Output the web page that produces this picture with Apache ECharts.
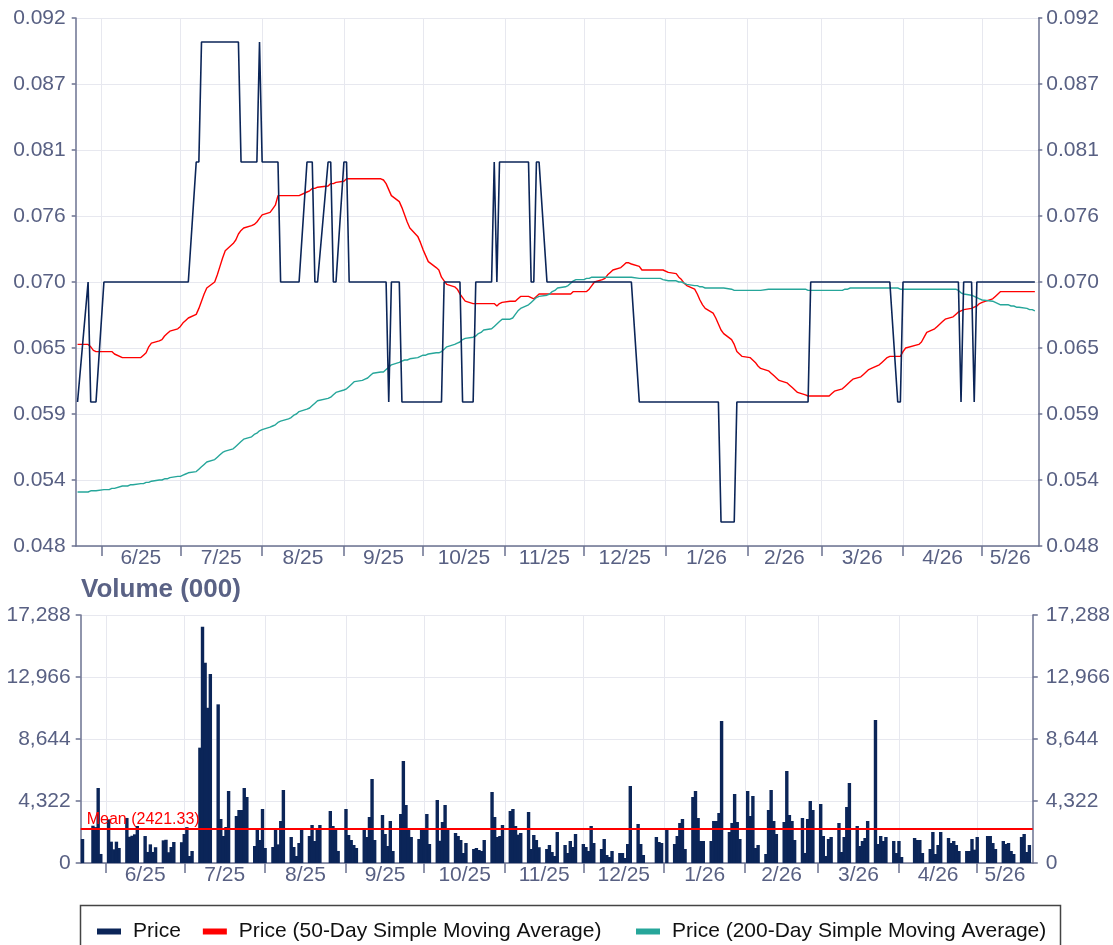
<!DOCTYPE html>
<html>
<head>
<meta charset="utf-8">
<script src="https://cdn.jsdelivr.net/npm/echarts@6/dist/echarts.min.js"></script>
<style>
  html, body { margin: 0; padding: 0; background: #ffffff; }
  #chart { width: 1113px; height: 945px; }
</style>
</head>
<body>
<div id="chart"></div>
<script>
// ---------------- DATA ----------------
// Trading calendar (London): weekdays between first and last session, minus bank holidays
const firstSession = '2025-05-23';
const lastSession = '2026-05-21';
const holidays = ['2025-05-26', '2025-08-25', '2025-12-25', '2025-12-26',
                  '2026-01-01', '2026-04-03', '2026-04-06', '2026-05-04'];

// Month boundaries and their labels (x axis)
const monthStarts = ['2025-06-01', '2025-07-01', '2025-08-01', '2025-09-01', '2025-10-01', '2025-11-01',
                     '2025-12-01', '2026-01-01', '2026-02-01', '2026-03-01', '2026-04-01', '2026-05-01'];
const monthLabels = ['6/25', '7/25', '8/25', '9/25', '10/25', '11/25', '12/25', '1/26', '2/26', '3/26', '4/26', '5/26'];

// Price axis ticks
const priceTickValues = [0.048, 0.0535, 0.059, 0.0645, 0.070, 0.0755, 0.081, 0.0865, 0.092];
const priceTickLabels = ['0.048', '0.054', '0.059', '0.065', '0.070', '0.076', '0.081', '0.087', '0.092'];
// Volume axis ticks
const volumeMax = 17288;
const volumeInterval = 4322;
const meanVolume = 2421.33;

const seriesNames = ['Price', 'Price (50-Day Simple Moving Average)', 'Price (200-Day Simple Moving Average)'];

// Closing price, one value per session (rows = weeks)
const price = [
  0.060,
  0.070, 0.060, 0.060, 0.060,
  0.070, 0.070, 0.070, 0.070, 0.070,
  0.070, 0.070, 0.070, 0.070, 0.070,
  0.070, 0.070, 0.070, 0.070, 0.070,
  0.070, 0.070, 0.070, 0.070, 0.070,
  0.070, 0.070, 0.070, 0.070, 0.070,
  0.080, 0.080, 0.090, 0.090, 0.090,
  0.090, 0.090, 0.090, 0.090, 0.090,
  0.090, 0.090, 0.090, 0.080, 0.080,
  0.080, 0.080, 0.080, 0.090, 0.080,
  0.080, 0.080, 0.080, 0.080, 0.070,
  0.070, 0.070, 0.070, 0.070, 0.070,
  0.080, 0.080, 0.080, 0.070, 0.070,
  0.080, 0.080, 0.070, 0.070,
  0.080, 0.080, 0.070, 0.070, 0.070,
  0.070, 0.070, 0.070, 0.070, 0.070,
  0.070, 0.070, 0.070, 0.060, 0.070,
  0.070, 0.060, 0.060, 0.060, 0.060,
  0.060, 0.060, 0.060, 0.060, 0.060,
  0.060, 0.060, 0.060, 0.070, 0.070,
  0.070, 0.070, 0.070, 0.060, 0.060,
  0.060, 0.070, 0.070, 0.070, 0.070,
  0.070, 0.080, 0.070, 0.080, 0.080,
  0.080, 0.080, 0.080, 0.080, 0.080,
  0.080, 0.070, 0.070, 0.080, 0.080,
  0.070, 0.070, 0.070, 0.070, 0.070,
  0.070, 0.070, 0.070, 0.070, 0.070,
  0.070, 0.070, 0.070, 0.070, 0.070,
  0.070, 0.070, 0.070, 0.070, 0.070,
  0.070, 0.070, 0.070, 0.070, 0.070,
  0.060, 0.060, 0.060,
  0.060, 0.060, 0.060, 0.060,
  0.060, 0.060, 0.060, 0.060, 0.060,
  0.060, 0.060, 0.060, 0.060, 0.060,
  0.060, 0.060, 0.060, 0.050, 0.050,
  0.050, 0.050, 0.060, 0.060, 0.060,
  0.060, 0.060, 0.060, 0.060, 0.060,
  0.060, 0.060, 0.060, 0.060, 0.060,
  0.060, 0.060, 0.060, 0.060, 0.060,
  0.060, 0.060, 0.070, 0.070, 0.070,
  0.070, 0.070, 0.070, 0.070, 0.070,
  0.070, 0.070, 0.070, 0.070, 0.070,
  0.070, 0.070, 0.070, 0.070, 0.070,
  0.070, 0.070, 0.070, 0.070, 0.070,
  0.060, 0.060, 0.070, 0.070,
  0.070, 0.070, 0.070, 0.070,
  0.070, 0.070, 0.070, 0.070, 0.070,
  0.070, 0.070, 0.070, 0.060, 0.070,
  0.070, 0.060, 0.070, 0.070, 0.070,
  0.070, 0.070, 0.070, 0.070,
  0.070, 0.070, 0.070, 0.070, 0.070,
  0.070, 0.070, 0.070, 0.070
];

// 50-day simple moving average
const sma50 = [
  0.0648,
  0.0648, 0.0646, 0.0643, 0.0642,
  0.0642, 0.0642, 0.0642, 0.0642, 0.0640,
  0.0637, 0.0637, 0.0637, 0.0637, 0.0637,
  0.0637, 0.0639, 0.0641, 0.0646, 0.0649,
  0.0651, 0.0652, 0.0655, 0.0657, 0.0659,
  0.0661, 0.0663, 0.0666, 0.0668, 0.0670,
  0.0673, 0.0678, 0.0684, 0.0690, 0.0695,
  0.0700, 0.0706, 0.0713, 0.0720, 0.0726,
  0.0732, 0.0735, 0.0740, 0.0743, 0.0745,
  0.0747, 0.0748, 0.0750, 0.0753, 0.0756,
  0.0758, 0.0761, 0.0764, 0.0772, 0.0772,
  0.0772, 0.0772, 0.0772, 0.0772, 0.0772,
  0.0775, 0.0776, 0.0778, 0.0778, 0.0779,
  0.0780, 0.0782, 0.0782, 0.0783,
  0.0784, 0.0786, 0.0786, 0.0786, 0.0786,
  0.0786, 0.0786, 0.0786, 0.0786, 0.0786,
  0.0786, 0.0785, 0.0782, 0.0777, 0.0772,
  0.0767, 0.0762, 0.0756, 0.0750, 0.0745,
  0.0738, 0.0733, 0.0727, 0.0722, 0.0717,
  0.0712, 0.0710, 0.0704, 0.0701, 0.0698,
  0.0696, 0.0694, 0.0690, 0.0687, 0.0684,
  0.0682, 0.0682, 0.0682, 0.0682, 0.0682,
  0.0682, 0.0682, 0.0680, 0.0682, 0.0683,
  0.0684, 0.0684, 0.0684, 0.0686, 0.0688,
  0.0688, 0.0687, 0.0686, 0.0688, 0.0690,
  0.0690, 0.0690, 0.0690, 0.0690, 0.0690,
  0.0690, 0.0690, 0.0690, 0.0692, 0.0692,
  0.0692, 0.0692, 0.0694, 0.0697, 0.0700,
  0.0702, 0.0703, 0.0706, 0.0708, 0.0710,
  0.0712, 0.0714, 0.0716, 0.0716, 0.0715,
  0.0713, 0.0710, 0.0710,
  0.0710, 0.0710, 0.0710, 0.0708,
  0.0707, 0.0704, 0.0702, 0.0699, 0.0697,
  0.0694, 0.0690, 0.0685, 0.0681, 0.0678,
  0.0674, 0.0670, 0.0665, 0.0660, 0.0657,
  0.0652, 0.0648, 0.0642, 0.0640, 0.0638,
  0.0637, 0.0635, 0.0633, 0.0630, 0.0628,
  0.0626, 0.0624, 0.0622, 0.0620, 0.0618,
  0.0616, 0.0614, 0.0612, 0.0610, 0.0608,
  0.0606, 0.0605, 0.0605, 0.0605, 0.0605,
  0.0605, 0.0605, 0.0605, 0.0607, 0.0609,
  0.0611, 0.0613, 0.0615, 0.0617, 0.0619,
  0.0621, 0.0623, 0.0625, 0.0627, 0.0628,
  0.0631, 0.0633, 0.0635, 0.0637, 0.0638,
  0.0638, 0.0638, 0.0642, 0.0645,
  0.0648, 0.0650, 0.0654, 0.0658,
  0.0661, 0.0663, 0.0665, 0.0667, 0.0669,
  0.0671, 0.0673, 0.0675, 0.0676, 0.0677,
  0.0678, 0.0679, 0.0680, 0.0682, 0.0683,
  0.0686, 0.0688, 0.0690, 0.0692,
  0.0692, 0.0692, 0.0692, 0.0692, 0.0692,
  0.0692, 0.0692, 0.0692, 0.0692
];

// 200-day simple moving average
const sma200 = [
  0.0525,
  0.0525, 0.0526, 0.0526, 0.0526,
  0.0527, 0.0527, 0.0527, 0.0528, 0.0528,
  0.0530, 0.0530, 0.0530, 0.0531, 0.0531,
  0.0532, 0.0532, 0.0533, 0.0533, 0.0534,
  0.0535, 0.0535, 0.0536, 0.0536, 0.0537,
  0.0538, 0.0538, 0.0539, 0.0540, 0.0541,
  0.0542, 0.0544, 0.0546, 0.0548, 0.0550,
  0.0552, 0.0554, 0.0556, 0.0558, 0.0559,
  0.0561, 0.0563, 0.0565, 0.0567, 0.0569,
  0.0571, 0.0573, 0.0574, 0.0576, 0.0577,
  0.0579, 0.0580, 0.0581, 0.0583, 0.0584,
  0.0586, 0.0587, 0.0589, 0.0590, 0.0592,
  0.0594, 0.0595, 0.0597, 0.0599, 0.0601,
  0.0603, 0.0604, 0.0606, 0.0608,
  0.0610, 0.0611, 0.0613, 0.0615, 0.0617,
  0.0618, 0.0619, 0.0620, 0.0622, 0.0624,
  0.0625, 0.0625, 0.0627, 0.0629, 0.0631,
  0.0633, 0.0634, 0.0635, 0.0635, 0.0636,
  0.0637, 0.0638, 0.0639, 0.0639, 0.0640,
  0.0641, 0.0641, 0.0642, 0.0644, 0.0646,
  0.0648, 0.0649, 0.0650, 0.0652, 0.0653,
  0.0654, 0.0655, 0.0657, 0.0658, 0.0660,
  0.0661, 0.0663, 0.0665, 0.0667, 0.0669,
  0.0669, 0.0670, 0.0673, 0.0676, 0.0678,
  0.0681, 0.0683, 0.0685, 0.0687, 0.0688,
  0.0689, 0.0690, 0.0692, 0.0693, 0.0695,
  0.0696, 0.0697, 0.0699, 0.0701, 0.0702,
  0.0702, 0.0703, 0.0703, 0.0704, 0.0704,
  0.0704, 0.0704, 0.0704, 0.0704, 0.0704,
  0.0704, 0.0704, 0.0704, 0.0704, 0.0704,
  0.0703, 0.0703, 0.0703,
  0.0703, 0.0703, 0.0702, 0.0701,
  0.0701, 0.0700, 0.0700, 0.0699, 0.0698,
  0.0697, 0.0697, 0.0696, 0.0696, 0.0695,
  0.0695, 0.0695, 0.0695, 0.0695, 0.0695,
  0.0694, 0.0693, 0.0693, 0.0693, 0.0693,
  0.0693, 0.0693, 0.0693, 0.0693, 0.0693,
  0.0694, 0.0694, 0.0694, 0.0694, 0.0694,
  0.0694, 0.0694, 0.0694, 0.0694, 0.0694,
  0.0694, 0.0693, 0.0693, 0.0693, 0.0693,
  0.0693, 0.0693, 0.0693, 0.0693, 0.0693,
  0.0693, 0.0694, 0.0694, 0.0695, 0.0695,
  0.0695, 0.0695, 0.0695, 0.0695, 0.0695,
  0.0695, 0.0695, 0.0695, 0.0695, 0.0695,
  0.0695, 0.0694, 0.0694, 0.0694,
  0.0694, 0.0694, 0.0694, 0.0694,
  0.0694, 0.0694, 0.0694, 0.0694, 0.0694,
  0.0694, 0.0694, 0.0693, 0.0691, 0.0690,
  0.0689, 0.0688, 0.0687, 0.0686, 0.0685,
  0.0684, 0.0683, 0.0682, 0.0681,
  0.0681, 0.0680, 0.0680, 0.0679, 0.0679,
  0.0678, 0.0677, 0.0677, 0.0676
];

// Volume (000), one value per session
const volume = [
  1673,
  2600, 2500, 5230, 630,
  3044, 1487, 953, 1487, 1046,
  3140, 1830, 1900, 2000, 2580,
  1880, 770, 1300, 770, 1100,
  1580, 1620, 750, 1115, 1464,
  1450, 2022, 2500, 488, 837,
  8040, 16470, 13960, 10820, 13180,
  11060, 3068, 1882, 2510, 5020,
  3277, 3695, 3695, 5229, 4600,
  1185, 2300, 1604, 3765, 1046,
  1115, 2370, 1300, 2928, 5090,
  1813, 1115, 488, 1394, 2300,
  1882, 2650, 1534, 2300, 2650,
  3625, 2580, 2300, 840,
  3765, 1952, 1604, 1255, 1046,
  2394, 1813, 3207, 5856, 1604,
  3347, 2022, 1185, 2928, 837,
  3416, 7111, 4044, 2370, 1813,
  1673, 2370, 2300, 3416, 1325,
  4392, 1550, 2859, 4044, 2370,
  2092, 1882, 1604, 697, 1394,
  976, 1046, 906, 837, 1604,
  4950, 3207, 1813, 1882, 2650,
  3625, 3765, 2580, 1975, 2092,
  3556, 976, 1952, 1604, 1100,
  976, 1255, 767, 488, 2161,
  1255, 697, 1534, 1115, 2022,
  1325, 1115, 837, 2580, 1394,
  976, 1673, 558, 418, 837,
  697, 697, 349, 1325, 5368,
  2719, 1325, 558,
  1813, 1464, 1394, 2300,
  1325, 1882, 2789, 3068, 976,
  4602, 5020, 3137, 1534, 1534,
  1534, 2928, 2928, 3486, 9900,
  2161, 2789, 4811, 2859, 1673,
  5020, 3277, 4671, 1046, 1255,
  627, 3695, 5090, 2928, 2022,
  2859, 6414, 3347, 2928, 1604,
  3137, 700, 3068, 4323, 3695,
  4113, 1882, 488, 1673, 1813,
  2789, 767, 1813, 3904, 5578,
  2580, 1185, 1534, 1743, 2928,
  9970, 1325, 1882, 1534, 1813,
  1534, 697, 1534, 418,
  1743, 1604, 1604, 697,
  976, 2161, 627, 1255, 2161,
  1743, 1394, 1534, 1255, 837,
  837, 837, 1673, 930, 1813,
  1882, 1882, 1394, 976,
  1534, 1325, 1394, 837, 627,
  1813, 2022, 767, 1255
];

// ---------------- BUILD ----------------
const DAY = 86400000;
const origin = Date.UTC(2025, 4, 22);
function dayOf(s) {
  const p = s.split('-').map(Number);
  return (Date.UTC(p[0], p[1] - 1, p[2]) - origin) / DAY;
}
const sessions = [];
(function () {
  const a = dayOf(firstSession), b = dayOf(lastSession);
  for (let d = a; d <= b; d++) {
    const dt = new Date(origin + d * DAY);
    const wd = dt.getUTCDay();
    const iso = dt.toISOString().slice(0, 10);
    if (wd === 0 || wd === 6 || holidays.indexOf(iso) >= 0) continue;
    sessions.push(iso);
  }
})();

const sessionX = sessions.map(dayOf);
const pair = arr => sessionX.map((x, i) => [x, arr[i]]);

const monthTicks = monthStarts.map(dayOf);
const xMin = 0.3, xMax = 365.3;
const labelPos = monthTicks.map((t, i) => (t + (i + 1 < monthTicks.length ? monthTicks[i + 1] : xMax)) / 2);

const FONT = 'Liberation Sans, Arial, Helvetica, sans-serif';
const LABEL = '#586083';
const AXIS = '#6b7290';
const GRID = '#e7e8ef';
const NAVY = '#0b2558';
const RED = '#ff0000';
const TEAL = '#26a69a';

function nearestIndex(list, v) {
  let k = 0, best = 1e9;
  list.forEach((p, i) => { if (Math.abs(p - v) < best) { best = Math.abs(p - v); k = i; } });
  return k;
}
function xAxisFor(gridIndex) {
  return {
    type: 'value', gridIndex: gridIndex, min: xMin, max: xMax,
    axisLine: { show: true, onZero: false, lineStyle: { color: AXIS, width: 1.5 } },
    axisTick: { show: true, customValues: monthTicks, length: 10, lineStyle: { color: AXIS, width: 1.5 } },
    axisLabel: {
      customValues: labelPos, margin: 2, color: LABEL, fontSize: 21, fontFamily: FONT,
      formatter: v => monthLabels[nearestIndex(labelPos, v)]
    },
    splitLine: { show: true, lineStyle: { color: GRID, width: 1 } }
  };
}
function priceAxis(pos, margin) {
  return {
    type: 'value', gridIndex: 0, position: pos, min: priceTickValues[0], max: priceTickValues[priceTickValues.length - 1],
    axisLine: { show: true, lineStyle: { color: AXIS, width: 1.5 } },
    axisTick: { show: true, customValues: priceTickValues, length: 4, lineStyle: { color: AXIS, width: 1.5 } },
    axisLabel: { customValues: priceTickValues, formatter: v => priceTickLabels[nearestIndex(priceTickValues, v)], margin: margin, color: LABEL, fontSize: 21, fontFamily: FONT },
    splitLine: { show: pos === 'left', lineStyle: { color: GRID, width: 1.2 } }
  };
}
function volumeAxis(pos, margin) {
  return {
    type: 'value', gridIndex: 1, position: pos, min: 0, max: volumeMax, interval: volumeInterval,
    axisLine: { show: true, lineStyle: { color: AXIS, width: 1.5 } },
    axisTick: { show: true, length: 5, lineStyle: { color: AXIS, width: 1.5 } },
    axisLabel: { formatter: v => v.toLocaleString('en-US'), margin: margin, color: LABEL, fontSize: 21, fontFamily: FONT },
    splitLine: { show: pos === 'left', lineStyle: { color: GRID, width: 1.2 } }
  };
}

function legendAt(left, names) {
  return {
    left: left, top: 921, padding: 0, itemGap: 22, itemWidth: 24, itemHeight: 6, icon: 'rect',
    data: names,
    textStyle: { fontSize: 21, color: '#111111', fontFamily: FONT, padding: [0, 0, 0, 7] }
  };
}

const chart = echarts.init(document.getElementById('chart'), null, { renderer: 'canvas', devicePixelRatio: 1 });
chart.setOption({
  animation: false,
  backgroundColor: '#ffffff',
  textStyle: { fontFamily: FONT },
  title: {
    text: 'Volume (000)', left: 76, top: 572,
    textStyle: { fontSize: 26, fontWeight: 'bold', color: '#5a6285', fontFamily: FONT }
  },
  grid: [
    { left: 75.7, right: 74.7, top: 18, bottom: 399 },
    { left: 80.7, right: 79.7, top: 615, bottom: 82 }
  ],
  xAxis: [xAxisFor(0), xAxisFor(1)],
  yAxis: [priceAxis('left', 10), priceAxis('right', 8), volumeAxis('left', 10), volumeAxis('right', 13)],
  legend: [legendAt(97, seriesNames.slice(0, 2)), legendAt(636, seriesNames.slice(2))],
  graphic: [{
    type: 'rect', shape: { x: 80.5, y: 905.5, width: 980, height: 60 },
    style: { fill: 'none', stroke: '#444444', lineWidth: 1.5 }, silent: true, z: -1
  }],
  series: [
    {
      name: seriesNames[0], type: 'line', xAxisIndex: 0, yAxisIndex: 0, data: pair(price),
      showSymbol: false, symbol: 'none', color: NAVY, lineStyle: { color: NAVY, width: 1.6 }, z: 4
    },
    {
      name: seriesNames[1], type: 'line', xAxisIndex: 0, yAxisIndex: 0, data: pair(sma50),
      showSymbol: false, symbol: 'none', color: RED, lineStyle: { color: RED, width: 1.4 }, z: 3
    },
    {
      name: seriesNames[2], type: 'line', xAxisIndex: 0, yAxisIndex: 0, data: pair(sma200),
      showSymbol: false, symbol: 'none', color: TEAL, lineStyle: { color: TEAL, width: 1.4 }, z: 3
    },
    {
      name: 'Volume', type: 'bar', xAxisIndex: 1, yAxisIndex: 2, data: pair(volume),
      barWidth: 3.4, itemStyle: { color: NAVY }, large: false,
      markLine: {
        silent: true, symbol: 'none',
        lineStyle: { color: RED, width: 2, type: 'solid' },
        label: { show: true, position: 'insideStartTop', formatter: 'Mean (' + meanVolume.toFixed(2) + ')', color: RED, fontSize: 16, fontFamily: FONT, distance: [6, 1] },
        data: [{ yAxis: meanVolume }]
      }
    }
  ]
});
</script>
</body>
</html>
